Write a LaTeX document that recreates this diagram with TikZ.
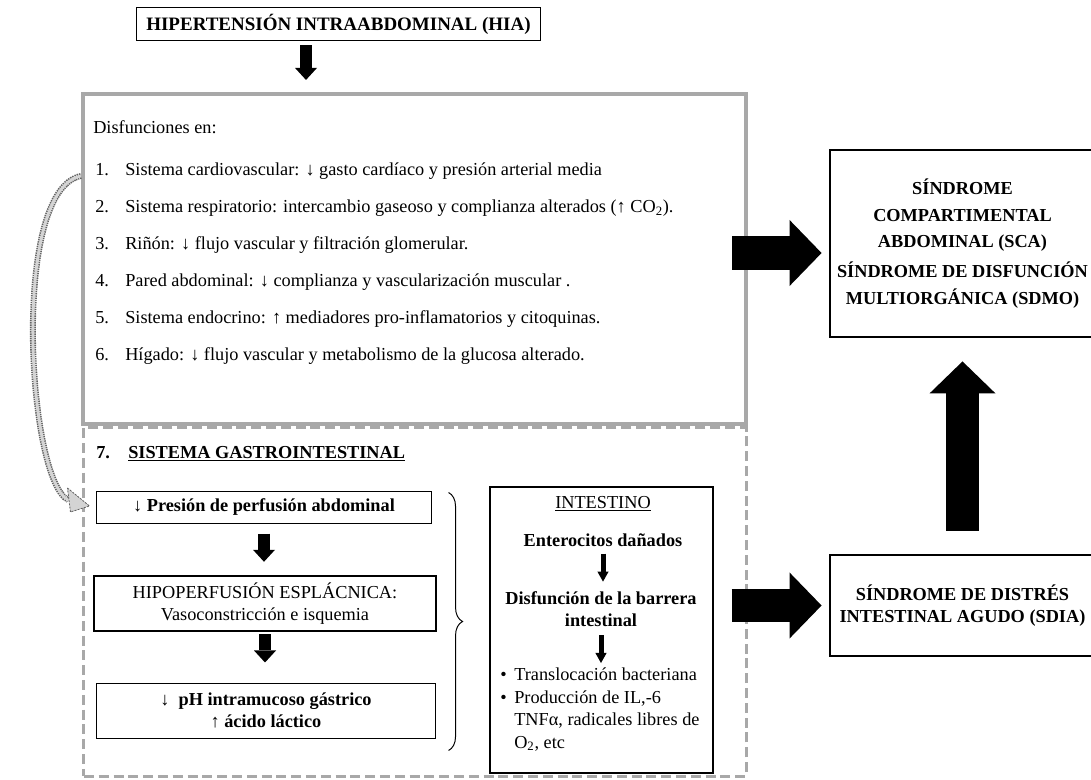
\documentclass[tikz,border=0pt]{standalone}
\usepackage{fontspec}
\setmainfont{Liberation Serif}
\usetikzlibrary{arrows.meta,calc,decorations.pathreplacing}

\definecolor{boxgray}{RGB}{168,168,168}
\definecolor{curvegray}{RGB}{100,100,100}
\definecolor{curvefill}{RGB}{212,212,212}

\newcommand{\basefont}{\fontsize{13}{15.6}\selectfont}

\tikzset{
  thinbox/.style={draw, line width=0.7pt, inner sep=0pt, align=center},
  thickbox/.style={draw, line width=2pt, inner sep=0pt, align=center},
  graybox/.style={draw=boxgray, line width=0.1cm, inner sep=0pt},
  graydash/.style={draw=boxgray, line width=0.075cm, dash pattern=on 0.25cm off 0.12cm, inner sep=0pt},
  txt/.style={inner sep=0pt, anchor=base west},
  bold/.style={font=\basefont\bfseries},
  downarrow/.style={line width=0.28cm, -{Triangle[length=0.3cm,width=0.55cm,line width=0pt]}},
  thinarrow/.style={line width=0.125cm, -{Triangle[length=0.25cm,width=0.28cm,line width=0pt]}},
  bigarrow/.style={line width=0.825cm, -{Triangle[length=0.8cm,width=1.65cm,line width=0pt]}},
  curveband/.style={draw=curvefill, line width=0.07cm,
    preaction={draw=curvegray, line width=0.15cm, dash pattern=on 1pt off 0.6pt}},
  curvehead/.style={fill=curvefill, draw=curvegray, line width=0.6pt, dash pattern=on 1.5pt off 0.8pt},
  bracestyle/.style={decorate, decoration={brace, amplitude=0.35cm}, line width=0.7pt},
}

\begin{document}
\begin{tikzpicture}[x=0.025cm, y=-0.025cm, every node/.style={font=\basefont}]
  \useasboundingbox (0,0) rectangle (1091,780);

  % HIA
  \node (hia) [thinbox, minimum width=10.075cm, minimum height=0.8cm, font=\fontsize{13.5}{16}\selectfont\bfseries] at (338.5,24)
    {HIPERTENSIÓN INTRAABDOMINAL (HIA)};

  % frames
  \node (upper) [graybox, minimum width=16.575cm, minimum height=8.25cm] at (414.5,259) {};
  \node (lower) [graydash, minimum width=16.55cm, minimum height=8.7cm] at (415,602) {};

  \coordinate (hx) at (306,0);
  \draw[downarrow, shorten <=0.125cm, shorten >=0.3cm] (hia.south -| hx) -- (upper.north -| hx);

  % disfunciones
  \node (dis) [txt] at (93,134) {Disfunciones en:};
  \node (i1) [txt] at (95,176) {\makebox[0.75cm][l]{1.}Sistema cardiovascular: ↓ gasto cardíaco y presión arterial media};
  \node (i2) [txt] at (95,213) {\makebox[0.75cm][l]{2.}Sistema respiratorio: intercambio gaseoso y complianza alterados (↑ CO\textsubscript{2}).};
  \node (i3) [txt] at (95,250) {\makebox[0.75cm][l]{3.}Riñón: ↓ flujo vascular y filtración glomerular.};
  \node (i4) [txt] at (95,287) {\makebox[0.75cm][l]{4.}Pared abdominal: ↓ complianza y vascularización muscular .};
  \node (i5) [txt] at (95,324) {\makebox[0.75cm][l]{5.}Sistema endocrino: ↑ mediadores pro-inflamatorios y citoquinas.};
  \node (i6) [txt] at (95,361) {\makebox[0.75cm][l]{6.}Hígado: ↓ flujo vascular y metabolismo de la glucosa alterado.};

  % gastrointestinal
  \node (sgi) [txt, bold] at (96,458) {\makebox[0.8cm][l]{7.}\underline{SISTEMA GASTROINTESTINAL}};

  \node (pa) [thinbox, bold, minimum width=8.35cm, minimum height=0.8cm] at (264,507)
    {↓ Presión de perfusión abdominal};
  \node (pb) [thickbox, minimum width=8.55cm, minimum height=1.375cm] at (265,603.5)
    {HIPOPERFUSIÓN ESPLÁCNICA:\\Vasoconstricción e isquemia};
  \node (pc) [thinbox, bold, minimum width=8.45cm, minimum height=1.375cm] at (266,710.5)
    {↓\enspace pH intramucoso gástrico\\↑ ácido láctico};

  \draw[downarrow, shorten <=0.25cm, shorten >=0.32cm] (pa.south) -- (pa.south |- pb.north);
  \draw[downarrow, shorten <=0.05cm, shorten >=0.5cm] (pb.south) -- (pb.south |- pc.north);

  \draw[bracestyle] ($(pa.north east)+(17,2)$) -- ($(pc.south east)+(13,12)$);

  % curved arrow
  \coordinate (cs) at (upper.west |- i1.base);
  \coordinate (hb) at ($(pa.west)+(-28,-7)$);
  \draw[curveband] (cs) .. controls (10,190) and (28,482) .. (hb);
  \filldraw[curvehead] ($(hb)+(-1,-12)$) -- ($(pa.west)+(-7,-1)$) -- ($(hb)+(2,12)$) -- cycle;

  % intestino
  \node (intest) [thickbox, minimum width=5.575cm, minimum height=7.15cm] at (601.5,630) {};
  \node (int) [inner sep=0pt] at (603,504) {\underline{INTESTINO}};
  \node (ent) [inner sep=0pt, bold] at (603,540) {Enterocitos dañados};
  \node (bar) [inner sep=0pt, bold, align=center] at (601,609) {Disfunción de la barrera\\intestinal};
  \node (bul) [inner sep=0pt, anchor=north west, align=left, font=\fontsize{13}{15.9}\selectfont] at (500,668)
    {\makebox[0.35cm][l]{\textbullet}Translocación bacteriana\\
     \makebox[0.35cm][l]{\textbullet}Producción de IL,-6\\
     \hspace*{0.35cm}TNFα, radicales libres de\\
     \hspace*{0.35cm}O\textsubscript{2}, etc};
  \draw[thinarrow, shorten <=0.175cm, shorten >=0.24cm] (ent.south) -- (ent.south |- bar.north);
  \draw[thinarrow, shorten <=0.21cm, shorten >=0.125cm] (bar.south) -- (bar.south |- bul.north);

  % sindromes
  \node (sca) [thickbox, minimum width=6.625cm, minimum height=4.675cm, font=\fontsize{13}{19}\selectfont\bfseries] at (962.5,243.5)
    {SÍNDROME\\COMPARTIMENTAL\\ABDOMINAL (SCA)\\[2pt]SÍNDROME DE DISFUNCIÓN\\MULTIORGÁNICA (SDMO)};
  \node (sdia) [thickbox, bold, minimum width=6.625cm, minimum height=2.525cm] at (962.5,605.5)
    {SÍNDROME DE DISTRÉS\\INTESTINAL AGUDO (SDIA)};

  \coordinate (r1) at (0,253);
  \draw[bigarrow, shorten >=0.175cm] ($(upper.east |- r1)+(-16,0)$) -- (sca.west |- r1);
  \draw[bigarrow, shorten >=0.175cm] ($(lower.east |- sdia.west)+(-16,0)$) -- (sdia.west);
  \draw[bigarrow, shorten <=0.575cm, shorten >=0.575cm] (sdia.north) -- (sca.south);
\end{tikzpicture}
\end{document}
